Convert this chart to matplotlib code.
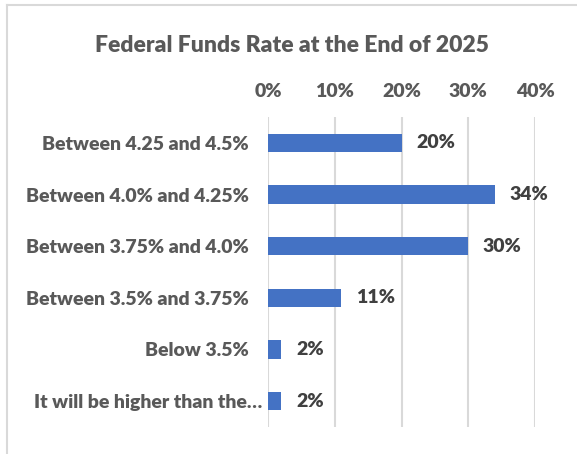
import matplotlib.pyplot as plt
import matplotlib.transforms as mtransforms
from matplotlib.lines import Line2D
from matplotlib.ticker import FuncFormatter

categories = [
    "Between 4.25 and 4.5%",
    "Between 4.0% and 4.25%",
    "Between 3.75% and 4.0%",
    "Between 3.5% and 3.75%",
    "Below 3.5%",
    "It will be higher than the\u2026",
]
shares = [20, 34, 30, 11, 2, 2]
ticks = [0, 10, 20, 30, 40]

plt.rcParams['font.family'] = ['Lato', 'DejaVu Sans']
plt.rcParams['font.weight'] = 'bold'

fig = plt.figure(figsize=(5.77, 4.54), dpi=100)
ax = fig.add_axes([268 / 577, 1 - 427 / 454, 267 / 577, 310 / 454])

pos = list(range(len(categories)))
ax.barh(pos, shares, height=0.35, color='#4472C4', zorder=3)
ax.set_ylim(len(categories) - 0.5, -0.5)
ax.set_xlim(0, 40)

ax.set_yticks(pos)
ax.set_yticklabels(categories, fontsize=14, color='#595959', fontweight='heavy')
ax.set_xticks(ticks)
ax.xaxis.set_major_formatter(FuncFormatter(lambda v, p: f"{v:.0f}%"))
ax.xaxis.tick_top()
ax.tick_params(axis='x', labelsize=14, colors='#595959', length=0, pad=12)
ax.tick_params(axis='y', length=0, pad=14)
for t in ax.get_xticklabels():
    t.set_fontweight('heavy')

# the truncated last label sits closer to the axis
last = ax.get_yticklabels()[-1]
last.set_transform(last.get_transform() +
                   mtransforms.ScaledTranslation(10 / 72, 0, fig.dpi_scale_trans))

ax.grid(axis='x', color='#D9D9D9', linewidth=1.5, zorder=0)
for s in ax.spines.values():
    s.set_visible(False)

for i, v in enumerate(shares):
    ax.text(v + 2.2, i, f"{v}%", va='center', ha='left',
            fontsize=14, color='#404040', fontweight='heavy')

fig.text(292 / 577, 1 - 45 / 454, "Federal Funds Rate at the End of 2025",
         ha='center', va='center', fontsize=16.5, color='#595959', fontweight='heavy')

# chart frame: only top and left edges are visible
fig.add_artist(Line2D([7 / 577, 1], [1 - 5 / 454, 1 - 5 / 454], color='#D9D9D9', linewidth=1.5))
fig.add_artist(Line2D([7 / 577, 7 / 577], [0, 1 - 5 / 454], color='#D9D9D9', linewidth=1.5))

fig.savefig('out.png', dpi=100)
